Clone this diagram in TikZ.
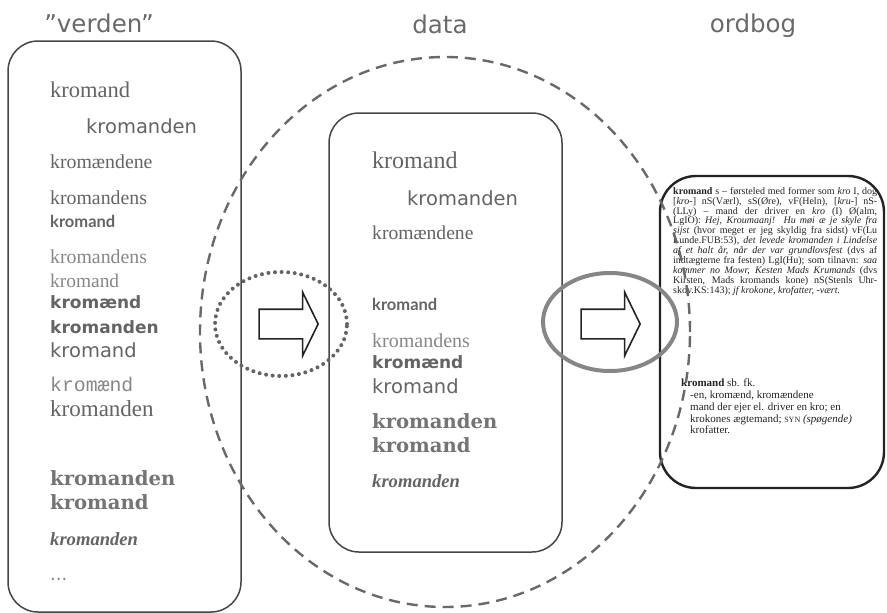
\documentclass[tikz,border=0pt]{standalone}
\usepackage{fontspec}
\setmainfont{Liberation Serif}
\newfontfamily\sansfnt{DejaVu Sans}
\newfontfamily\seriffnt{Liberation Serif}
\newfontfamily\monofnt{Liberation Mono}
\newfontfamily\heavyfnt{DejaVu Serif}
\newfontfamily\geofnt{Lato}
\usetikzlibrary{shapes.arrows}

\definecolor{titlegray}{RGB}{105,105,105}
\definecolor{wordgray}{RGB}{100,100,100}
\definecolor{lightgray}{RGB}{135,135,135}
\definecolor{dotgray}{RGB}{100,100,100}
\definecolor{linegray}{RGB}{70,70,70}
\definecolor{dictblack}{RGB}{35,35,35}

\tikzset{
  title/.style={anchor=base, inner sep=0pt, text=titlegray, font={\sansfnt\fontsize{24.5}{24.5}\selectfont}},
  word/.style={anchor=base west, inner sep=0pt, text=wordgray},
  serifword/.style={word, font={\seriffnt\fontsize{#1}{#1}\selectfont}},
  lightword/.style={word, text=lightgray, font={\seriffnt\fontsize{#1}{#1}\selectfont}},
  sansword/.style={word, font={\sansfnt\fontsize{#1}{#1}\selectfont}},
  boldword/.style={word, font={\sansfnt\bfseries\fontsize{#1}{#1}\selectfont}},
  geoword/.style={word, font={\geofnt\bfseries\fontsize{#1}{#1}\selectfont}},
  monoword/.style={word, text=lightgray, font={\monofnt\fontsize{#1}{#1}\selectfont}},
  heavyword/.style={word, text=wordgray!90, font={\heavyfnt\bfseries\fontsize{#1}{#1}\selectfont}},
  italword/.style={word, font={\seriffnt\bfseries\itshape\fontsize{#1}{#1}\selectfont}},
  wordbox/.style={draw=linegray, line width=1.5pt, rounded corners=30pt},
  dictbox/.style={draw=dictblack, line width=2.4pt, rounded corners=36pt},
  dicttext/.style={inner sep=0pt, text=dictblack},
  blockarrow/.style={single arrow, draw=dictblack, line width=1.6pt, inner sep=0pt,
    text height=28pt, text depth=0pt, minimum height=59pt, single arrow head extend=17pt,
    single arrow tip angle=128},
  datadash/.style={draw=titlegray, line width=2.4pt, dash pattern=on 11pt off 7pt},
  worlddots/.style={draw=dotgray, line width=4pt, line cap=round, dash pattern=on 0pt off 6.6pt},
  dictring/.style={draw=gray!95, line width=4pt}
}

\begin{document}
\begin{tikzpicture}[x=1pt, y=-1pt]
  \useasboundingbox (0,0) rectangle (887,613);

  \node[title] (verden) at (99,32) {”verden”};
  \node[title] (data) at (440,33) {data};
  \node[title] (ordbog) at (753,32) {ordbog};

  \draw[wordbox] (8,41) rectangle (241,612);
  \draw[wordbox] (329,113) rectangle (562,552);
  \draw[dictbox] (660,176) rectangle (884,488);

  \node[serifword=22.5] (v1) at (50,97) {kromand};
  \node[sansword=19.5] (v2) at (86,133) {kromanden};
  \node[serifword=19.8] (v3) at (50,168) {kromændene};
  \node[serifword=19.8] (v4) at (50,204) {kromandens};
  \node[geoword=16.5] (v5) at (50,227) {kromand};
  \node[lightword=19.8] (v6) at (50,263) {kromandens};
  \node[lightword=19.4] (v7) at (50,287) {kromand};
  \node[boldword=17] (v8) at (50,308) {kromænd};
  \node[boldword=17] (v9) at (50,333) {kromanden};
  \node[sansword=19.5] (v10) at (50,357) {kromand};
  \node[monoword=19.8] (v11) at (50,391) {kromænd};
  \node[serifword=23] (v12) at (50,416) {kromanden};
  \node[heavyword=19.6] (v13) at (50,485) {kromanden};
  \node[heavyword=19.6] (v14) at (50,509) {kromand};
  \node[italword=18.6] (v15) at (50,545) {kromanden};
  \node[sansword=18, text=lightgray] (v16) at (50,580) {...};

  \node[serifword=24] (m1) at (372,168) {kromand};
  \node[sansword=19.5] (m2) at (407,205) {kromanden};
  \node[serifword=19.6] (m3) at (372,239) {kromændene};
  \node[geoword=16.5] (m4) at (372,310) {kromand};
  \node[lightword=20] (m5) at (372,347) {kromandens};
  \node[boldword=17] (m6) at (372,368) {kromænd};
  \node[sansword=19.5] (m7) at (372,393) {kromand};
  \node[heavyword=19.6] (m8) at (372,428) {kromanden};
  \node[heavyword=19.6] (m9) at (372,452) {kromand};
  \node[italword=18.6] (m10) at (372,487) {kromanden};

  \node[dicttext, anchor=north west, text width=204pt, align=justify,
    font={\seriffnt\fontsize{10}{9.9}\selectfont}] (entry1) at (673,187) {\noindent
    \textbf{kromand} s – førsteled med former som \textit{kro} I, dog\linebreak
    {[}\textit{kro-}{]} nS(Værl), sS(Øre), vF(Heln), {[}\textit{kru-}{]} nS-\linebreak
    (LLy) – mand der driver en \textit{kro} (I) Ø(alm,\linebreak
    LgIO): \textit{Hej, Kroumaanj! Hu møi æ je skyle fra}\linebreak
    \textit{sijst} (hvor meget er jeg skyldig fra sidst) vF(Lu\linebreak
    Lunde.FUB:53), \textit{det levede kromanden i Lindelse}\linebreak
    \textit{af et halt år, når der var grundlovsfest} (dvs af\linebreak
    indtægterne fra festen) LgI(Hu); som tilnavn: \textit{saa}\linebreak
    \textit{kommer no Mowr, Kesten Mads Krumands} (dvs\linebreak
    Kirsten, Mads kromands kone) nS(Stenls Uhr-\linebreak
    skov.KS:143); \textit{jf krokone, krofatter, -vært.}};

  \node[dicttext, anchor=north west, align=left,
    font={\seriffnt\fontsize{11}{11.7}\selectfont}] (entry2) at (681,379) {%
    \textbf{kromand} sb. fk.\\
    \hspace*{9pt}-en, kromænd, kromændene\\
    \hspace*{9pt}mand der ejer el. driver en kro; en\\
    \hspace*{9pt}krokones ægtemand; {\fontsize{8}{8}\selectfont SYN} \textit{(spøgende)}\\
    \hspace*{9pt}krofatter.};

  \node[blockarrow] (arrL) at (285,324) {};
  \node[blockarrow] (arrR) at (607,324) {};

  \draw[worlddots] (281,324) ellipse [x radius=66pt, y radius=52pt];
  \draw[dictring] (610,322) ellipse [x radius=67pt, y radius=49pt];
  \draw[datadash] (445,332) ellipse [x radius=245pt, y radius=275pt];
\end{tikzpicture}
\end{document}
